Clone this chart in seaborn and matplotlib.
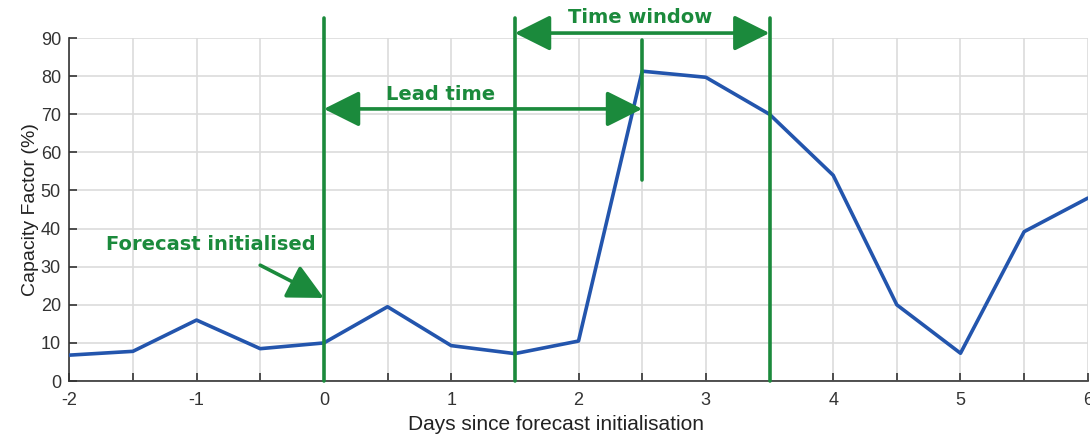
import numpy as np
import pandas as pd
import matplotlib
matplotlib.use('Agg')
import matplotlib.pyplot as plt
import seaborn as sns

# Data
days = [-2, -1.5, -1, -0.5, 0, 0.5, 1, 1.5, 2, 2.5, 3, 3.5, 4, 4.5, 5, 5.5, 6]
capacity = [6.8, 7.8, 16.0, 8.5, 10.0, 19.5, 9.3, 7.2, 10.5, 81.3, 79.7, 70.0, 54.0, 20.0, 7.3, 39.2, 48.0]
x_ticks = [-2, -1.5, -1, -0.5, 0, 0.5, 1, 1.5, 2, 2.5, 3, 3.5, 4, 4.5, 5, 5.5, 6]
x_labels = ['-2', '', '-1', '', '0', '', '1', '', '2', '', '3', '', '4', '', '5', '', '6']
y_ticks = [0, 10, 20, 30, 40, 50, 60, 70, 80, 90]

# annotation positions (days)
forecast_start = 0
window_start = 1.5
window_end = 3.5
lead_end = 2.5

df = pd.DataFrame({'day': days, 'cf': capacity})

sns.set_style('ticks')
plt.rcParams['font.family'] = ['Liberation Sans', 'DejaVu Sans']

green = '#1b8a3c'
blue = '#2355ad'

fig = plt.figure(figsize=(10.9, 4.37), dpi=100)
ax = fig.add_axes([0.0635, 0.128, 0.9345, 0.785])

sns.lineplot(data=df, x='day', y='cf', ax=ax, color=blue, linewidth=2.6, zorder=3)

ax.set_xlim(-2, 6)
ax.set_ylim(0, 90)
ax.set_xticks(x_ticks)
ax.set_xticklabels(x_labels)
ax.set_yticks(y_ticks)
ax.grid(True, color='#dcdcdc', linewidth=1.2)
ax.set_axisbelow(True)
ax.tick_params(direction='in', length=6, width=1.2, colors='#333333', labelsize=13, pad=8)
ax.tick_params(axis='y', pad=6)
for s in ['top', 'right']:
    ax.spines[s].set_visible(False)
for s in ['left', 'bottom']:
    ax.spines[s].set_color('#333333')
    ax.spines[s].set_linewidth(1.2)
ax.set_xlabel('Days since forecast initialisation', fontsize=15, color='#222222')
ax.xaxis.set_label_coords(0.478, -0.098)
ax.set_ylabel('Capacity Factor (%)', fontsize=14, color='#222222', labelpad=1)

# vertical green markers
for xv in [forecast_start, window_start, window_end]:
    ax.plot([xv, xv], [0, 95.3], color=green, linewidth=2.6, clip_on=False, zorder=4)
ax.plot([lead_end, lead_end], [52.8, 89.5], color=green, linewidth=2.6, clip_on=False, zorder=4)

afont = dict(family='DejaVu Sans', fontweight='bold', fontsize=14, color=green)
astyle = '<|-|>,head_length=1.1,head_width=0.55'

# time window arrow
ax.annotate('', xy=(window_end, 91.3), xytext=(window_start, 91.3), annotation_clip=False,
            arrowprops=dict(arrowstyle=astyle, color=green,
                            lw=2.6, shrinkA=0, shrinkB=0, mutation_scale=20))
ax.text(2.48, 95.5, 'Time window', ha='center', va='center', clip_on=False, **afont)

# lead time arrow
ax.annotate('', xy=(lead_end, 71.4), xytext=(forecast_start, 71.4),
            arrowprops=dict(arrowstyle=astyle, color=green,
                            lw=2.6, shrinkA=0, shrinkB=0, mutation_scale=20))
ax.text(0.92, 75.3, 'Lead time', ha='center', va='center', **afont)

# forecast initialised
ax.annotate('', xy=(forecast_start, 21.8), xytext=(-0.5, 30.4),
            arrowprops=dict(arrowstyle='-|>,head_length=1.1,head_width=0.55', color=green,
                            lw=2.6, shrinkA=0, shrinkB=0, mutation_scale=20))
ax.text(-0.89, 35.8, 'Forecast initialised', ha='center', va='center', **afont)

fig.savefig('out.png', dpi=100)
